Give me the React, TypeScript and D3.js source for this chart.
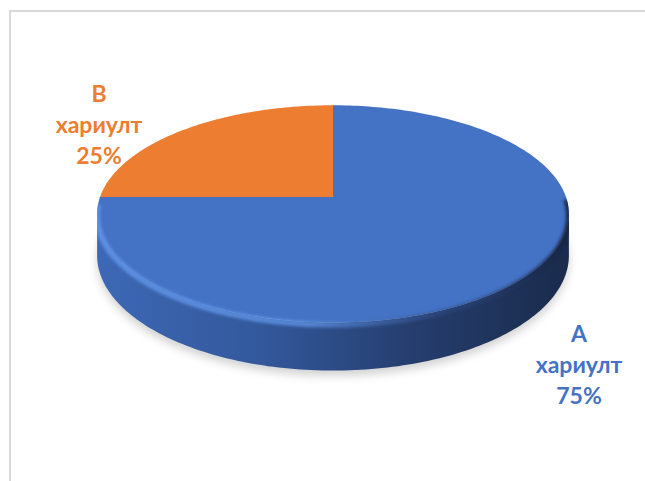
import React from 'react';
import * as d3 from 'd3';

const categories = ['А', 'В'];
const answerWord = ['хариулт', 'хариулт'];
const values = [75, 25];
const colors = ['#4472C4', '#ED7D31'];
const sideColors = ['#3d68b5', '#33589b', '#263f70', '#1a2b4c'];

const W = 645, H = 481;
const cx = 333, cy = 197, sx = 233, sy = 106, k = 0.156, depthFront = 48;

function project(a: number, drop = 0) {
  const X = Math.sin(a), Z = -Math.cos(a);
  const w = 1 - k * Z;
  const d = drop ? (drop * (1 - k)) / w : 0;
  return [cx + (sx * X) / w, cy + (sy * Z) / w + d] as [number, number];
}

function arcPoints(a0: number, a1: number, drop = 0) {
  const n = Math.max(2, Math.ceil(Math.abs(a1 - a0) / 0.02));
  return d3.range(n + 1).map(i => project(a0 + ((a1 - a0) * i) / n, drop));
}

const line = d3.line();

export default function App() {
  const pie = d3.pie<number>().sort(null)(values);
  const total = d3.sum(values);
  const aR = Math.acos(-k);
  const aL = 2 * Math.PI - aR;

  const sidePts = [...arcPoints(aR, aL), ...arcPoints(aL, aR, depthFront)];
  const sidePath = line(sidePts) + 'Z';
  const fullTop = line(arcPoints(0, 2 * Math.PI)) + 'Z';
  const bottomPath = line(arcPoints(0, 2 * Math.PI, depthFront)) + 'Z';
  const rimPath = line(arcPoints(aR - 0.15, aL + 0.1));

  const labelPos = [
    { x: 579, y: 342 },
    { x: 99, y: 102 },
  ];

  return (
    <svg width={W} height={H} style={{ position: 'absolute', left: 0, top: 0, background: '#fff' }}>
      <defs>
        <linearGradient id="side" x1={cx - sx} x2={cx + sx} y1={0} y2={0} gradientUnits="userSpaceOnUse">
          <stop offset="0" stopColor={sideColors[0]} />
          <stop offset="0.35" stopColor={sideColors[1]} />
          <stop offset="0.65" stopColor={sideColors[2]} />
          <stop offset="1" stopColor={sideColors[3]} />
        </linearGradient>
        <linearGradient id="rim" x1={cx - sx} x2={cx + sx} y1={0} y2={0} gradientUnits="userSpaceOnUse">
          <stop offset="0" stopColor="#5f93e6" stopOpacity="0.9" />
          <stop offset="0.45" stopColor="#5e92e4" stopOpacity="0.8" />
          <stop offset="0.75" stopColor="#2a4780" stopOpacity="0.5" />
          <stop offset="1" stopColor="#142440" stopOpacity="0.9" />
        </linearGradient>
        <filter id="blur6" x="-20%" y="-20%" width="140%" height="140%">
          <feGaussianBlur stdDeviation="5" />
        </filter>
        <filter id="blur2" x="-10%" y="-10%" width="120%" height="120%">
          <feGaussianBlur stdDeviation="1.6" />
        </filter>
        <clipPath id="pieClip">
          <path d={fullTop} />
          <path d={sidePath} />
        </clipPath>
      </defs>
      <rect x={10} y={11} width={700} height={600} fill="none" stroke="#d9d9d9" strokeWidth={2} />
      <path d={bottomPath} transform="translate(0,5)" fill="#000" opacity={0.18} filter="url(#blur6)" />
      <path d={sidePath} fill="url(#side)" />
      {pie.map((s, i) => {
        const pts = [[cx, cy] as [number, number], ...arcPoints(s.startAngle, s.endAngle)];
        return <path key={i} d={line(pts) + 'Z'} fill={colors[i]} />;
      })}
      <g clipPath="url(#pieClip)">
        <path d={rimPath} fill="none" stroke="url(#rim)" strokeWidth={6} filter="url(#blur2)" transform="translate(0,2)" />
      </g>
      {pie.map((s, i) => (
        <text
          key={'l' + i}
          x={labelPos[i].x}
          y={labelPos[i].y}
          textAnchor="middle"
          fontFamily="Lato, 'Open Sans', sans-serif"
          fontWeight="bold"
          fontSize={23}
          fill={colors[i]}
        >
          <tspan x={labelPos[i].x} dy={0}>{categories[i]}</tspan>
          <tspan x={labelPos[i].x} dy={31}>{answerWord[i]}</tspan>
          <tspan x={labelPos[i].x} dy={31}>{Math.round((s.value / total) * 100) + '%'}</tspan>
        </text>
      ))}
    </svg>
  );
}
